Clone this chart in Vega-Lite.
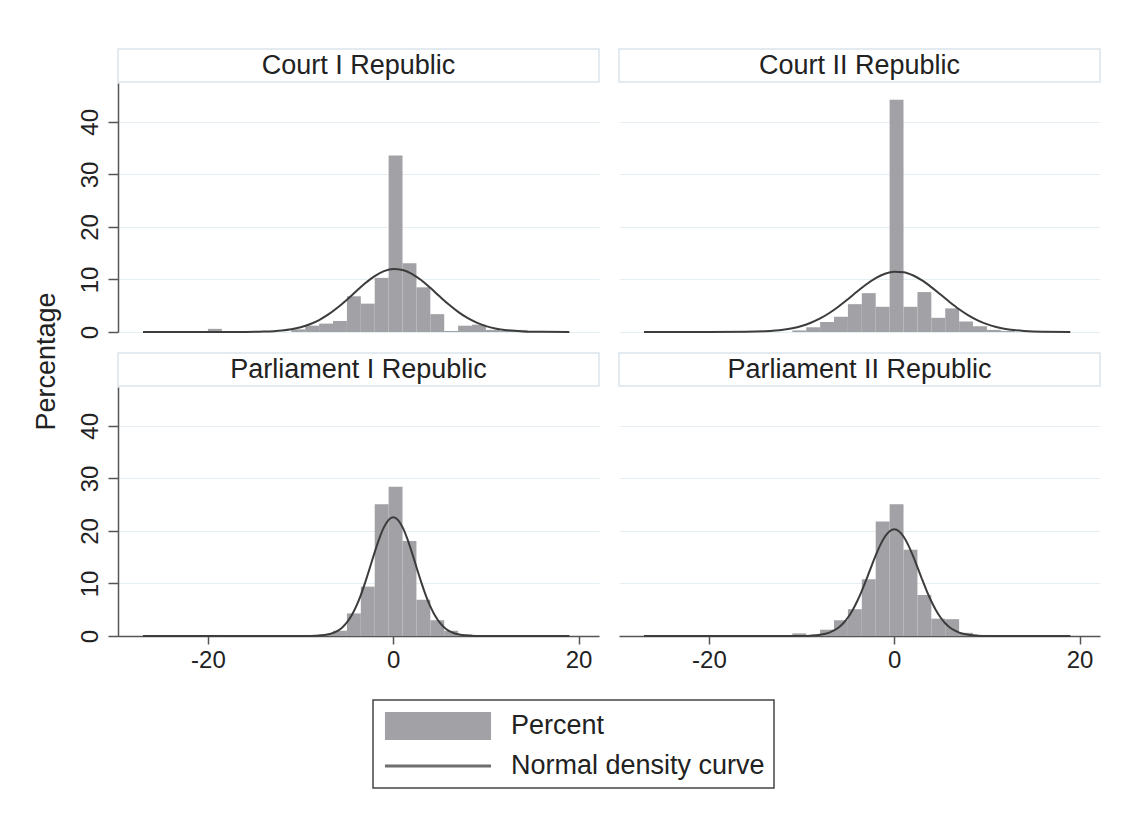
{
  "$schema": "https://vega.github.io/schema/vega-lite/v6.json",
  "background": "white",
  "padding": {"left": 32, "top": 48, "right": 20, "bottom": 5},
  "title": {"text": "Percentage", "orient": "left", "anchor": "middle", "font": "Liberation Sans", "fontSize": 27, "fontWeight": "normal", "color": "#222222", "offset": 17, "dx": 57},
  "datasets": {
    "headers": [
      {"panel": "Court I Republic"},
      {"panel": "Court II Republic"},
      {"panel": "Parliament I Republic"},
      {"panel": "Parliament II Republic"}
    ],
    "legend": [
      {"item": "Percent"},
      {"item": "Normal density curve"}
    ],
    "bars": [
      {"panel": "Court I Republic", "x0": -20, "x1": -18.5, "pct": 0.6},
      {"panel": "Court I Republic", "x0": -11, "x1": -9.5, "pct": 0.5},
      {"panel": "Court I Republic", "x0": -9.5, "x1": -8, "pct": 1.2},
      {"panel": "Court I Republic", "x0": -8, "x1": -6.5, "pct": 1.6},
      {"panel": "Court I Republic", "x0": -6.5, "x1": -5, "pct": 2.1},
      {"panel": "Court I Republic", "x0": -5, "x1": -3.5, "pct": 6.8},
      {"panel": "Court I Republic", "x0": -3.5, "x1": -2, "pct": 5.4},
      {"panel": "Court I Republic", "x0": -2, "x1": -0.5, "pct": 10.3},
      {"panel": "Court I Republic", "x0": -0.5, "x1": 1, "pct": 33.6},
      {"panel": "Court I Republic", "x0": 1, "x1": 2.5, "pct": 13.1},
      {"panel": "Court I Republic", "x0": 2.5, "x1": 4, "pct": 8.5},
      {"panel": "Court I Republic", "x0": 4, "x1": 5.5, "pct": 3.4},
      {"panel": "Court I Republic", "x0": 5.5, "x1": 7, "pct": 0.2},
      {"panel": "Court I Republic", "x0": 7, "x1": 8.5, "pct": 1.2},
      {"panel": "Court I Republic", "x0": 8.5, "x1": 10, "pct": 1.4},
      {"panel": "Court I Republic", "x0": 10, "x1": 11.5, "pct": 0.4},
      {"panel": "Court I Republic", "x0": 11.5, "x1": 13, "pct": 0.2},
      {"panel": "Court I Republic", "x0": 13, "x1": 14.5, "pct": 0.4},
      {"panel": "Court I Republic", "x0": 14.5, "x1": 16, "pct": 0.2},
      {"panel": "Court II Republic", "x0": -11, "x1": -9.5, "pct": 0.3},
      {"panel": "Court II Republic", "x0": -9.5, "x1": -8, "pct": 0.9},
      {"panel": "Court II Republic", "x0": -8, "x1": -6.5, "pct": 1.9},
      {"panel": "Court II Republic", "x0": -6.5, "x1": -5, "pct": 2.9},
      {"panel": "Court II Republic", "x0": -5, "x1": -3.5, "pct": 5.3},
      {"panel": "Court II Republic", "x0": -3.5, "x1": -2, "pct": 7.4},
      {"panel": "Court II Republic", "x0": -2, "x1": -0.5, "pct": 4.8},
      {"panel": "Court II Republic", "x0": -0.5, "x1": 1, "pct": 44.2},
      {"panel": "Court II Republic", "x0": 1, "x1": 2.5, "pct": 4.8},
      {"panel": "Court II Republic", "x0": 2.5, "x1": 4, "pct": 7.6},
      {"panel": "Court II Republic", "x0": 4, "x1": 5.5, "pct": 2.7},
      {"panel": "Court II Republic", "x0": 5.5, "x1": 7, "pct": 4.5},
      {"panel": "Court II Republic", "x0": 7, "x1": 8.5, "pct": 2.0},
      {"panel": "Court II Republic", "x0": 8.5, "x1": 10, "pct": 1.1},
      {"panel": "Court II Republic", "x0": 10, "x1": 11.5, "pct": 0.4},
      {"panel": "Court II Republic", "x0": 11.5, "x1": 13, "pct": 0.2},
      {"panel": "Parliament I Republic", "x0": -20, "x1": -18.5, "pct": 0.2},
      {"panel": "Parliament I Republic", "x0": -8, "x1": -6.5, "pct": 0.3},
      {"panel": "Parliament I Republic", "x0": -6.5, "x1": -5, "pct": 1.0},
      {"panel": "Parliament I Republic", "x0": -5, "x1": -3.5, "pct": 4.3},
      {"panel": "Parliament I Republic", "x0": -3.5, "x1": -2, "pct": 9.4},
      {"panel": "Parliament I Republic", "x0": -2, "x1": -0.5, "pct": 25.1},
      {"panel": "Parliament I Republic", "x0": -0.5, "x1": 1, "pct": 28.4},
      {"panel": "Parliament I Republic", "x0": 1, "x1": 2.5, "pct": 18.1},
      {"panel": "Parliament I Republic", "x0": 2.5, "x1": 4, "pct": 6.9},
      {"panel": "Parliament I Republic", "x0": 4, "x1": 5.5, "pct": 3.0},
      {"panel": "Parliament I Republic", "x0": 5.5, "x1": 7, "pct": 1.0},
      {"panel": "Parliament I Republic", "x0": 7, "x1": 8.5, "pct": 0.3},
      {"panel": "Parliament I Republic", "x0": 8.5, "x1": 10, "pct": 0.1},
      {"panel": "Parliament II Republic", "x0": -11, "x1": -9.5, "pct": 0.5},
      {"panel": "Parliament II Republic", "x0": -9.5, "x1": -8, "pct": 0.2},
      {"panel": "Parliament II Republic", "x0": -8, "x1": -6.5, "pct": 1.2},
      {"panel": "Parliament II Republic", "x0": -6.5, "x1": -5, "pct": 3.0},
      {"panel": "Parliament II Republic", "x0": -5, "x1": -3.5, "pct": 5.1},
      {"panel": "Parliament II Republic", "x0": -3.5, "x1": -2, "pct": 10.8},
      {"panel": "Parliament II Republic", "x0": -2, "x1": -0.5, "pct": 21.8},
      {"panel": "Parliament II Republic", "x0": -0.5, "x1": 1, "pct": 25.1},
      {"panel": "Parliament II Republic", "x0": 1, "x1": 2.5, "pct": 16.4},
      {"panel": "Parliament II Republic", "x0": 2.5, "x1": 4, "pct": 7.8},
      {"panel": "Parliament II Republic", "x0": 4, "x1": 5.5, "pct": 3.3},
      {"panel": "Parliament II Republic", "x0": 5.5, "x1": 7, "pct": 3.2},
      {"panel": "Parliament II Republic", "x0": 7, "x1": 8.5, "pct": 0.6},
      {"panel": "Parliament II Republic", "x0": 8.5, "x1": 10, "pct": 0.2}
    ],
    "curves": [
      {"panel": "Court I Republic", "x": -27, "y": 0},
      {"panel": "Court I Republic", "x": -20, "y": 0},
      {"panel": "Court I Republic", "x": -16, "y": 0.02},
      {"panel": "Court I Republic", "x": -14, "y": 0.08},
      {"panel": "Court I Republic", "x": -12, "y": 0.3},
      {"panel": "Court I Republic", "x": -11, "y": 0.54},
      {"panel": "Court I Republic", "x": -10, "y": 0.92},
      {"panel": "Court I Republic", "x": -9, "y": 1.48},
      {"panel": "Court I Republic", "x": -8, "y": 2.28},
      {"panel": "Court I Republic", "x": -7, "y": 3.34},
      {"panel": "Court I Republic", "x": -6, "y": 4.65},
      {"panel": "Court I Republic", "x": -5, "y": 6.16},
      {"panel": "Court I Republic", "x": -4, "y": 7.76},
      {"panel": "Court I Republic", "x": -3, "y": 9.32},
      {"panel": "Court I Republic", "x": -2, "y": 10.65},
      {"panel": "Court I Republic", "x": -1, "y": 11.58},
      {"panel": "Court I Republic", "x": 0, "y": 11.99},
      {"panel": "Court I Republic", "x": 1, "y": 11.81},
      {"panel": "Court I Republic", "x": 2, "y": 11.08},
      {"panel": "Court I Republic", "x": 3, "y": 9.89},
      {"panel": "Court I Republic", "x": 4, "y": 8.4},
      {"panel": "Court I Republic", "x": 5, "y": 6.79},
      {"panel": "Court I Republic", "x": 6, "y": 5.23},
      {"panel": "Court I Republic", "x": 7, "y": 3.83},
      {"panel": "Court I Republic", "x": 8, "y": 2.67},
      {"panel": "Court I Republic", "x": 9, "y": 1.77},
      {"panel": "Court I Republic", "x": 10, "y": 1.12},
      {"panel": "Court I Republic", "x": 11, "y": 0.67},
      {"panel": "Court I Republic", "x": 12, "y": 0.39},
      {"panel": "Court I Republic", "x": 14, "y": 0.11},
      {"panel": "Court I Republic", "x": 16, "y": 0.03},
      {"panel": "Court I Republic", "x": 19, "y": 0},
      {"panel": "Court II Republic", "x": -27, "y": 0},
      {"panel": "Court II Republic", "x": -20, "y": 0.01},
      {"panel": "Court II Republic", "x": -16, "y": 0.04},
      {"panel": "Court II Republic", "x": -14, "y": 0.14},
      {"panel": "Court II Republic", "x": -12, "y": 0.43},
      {"panel": "Court II Republic", "x": -11, "y": 0.72},
      {"panel": "Court II Republic", "x": -10, "y": 1.15},
      {"panel": "Court II Republic", "x": -9, "y": 1.76},
      {"panel": "Court II Republic", "x": -8, "y": 2.58},
      {"panel": "Court II Republic", "x": -7, "y": 3.62},
      {"panel": "Court II Republic", "x": -6, "y": 4.86},
      {"panel": "Court II Republic", "x": -5, "y": 6.25},
      {"panel": "Court II Republic", "x": -4, "y": 7.7},
      {"panel": "Court II Republic", "x": -3, "y": 9.08},
      {"panel": "Court II Republic", "x": -2, "y": 10.25},
      {"panel": "Court II Republic", "x": -1, "y": 11.09},
      {"panel": "Court II Republic", "x": 0, "y": 11.48},
      {"panel": "Court II Republic", "x": 1, "y": 11.38},
      {"panel": "Court II Republic", "x": 2, "y": 10.8},
      {"panel": "Court II Republic", "x": 3, "y": 9.82},
      {"panel": "Court II Republic", "x": 4, "y": 8.54},
      {"panel": "Court II Republic", "x": 5, "y": 7.12},
      {"panel": "Court II Republic", "x": 6, "y": 5.68},
      {"panel": "Court II Republic", "x": 7, "y": 4.34},
      {"panel": "Court II Republic", "x": 8, "y": 3.18},
      {"panel": "Court II Republic", "x": 9, "y": 2.23},
      {"panel": "Court II Republic", "x": 10, "y": 1.49},
      {"panel": "Court II Republic", "x": 11, "y": 0.96},
      {"panel": "Court II Republic", "x": 12, "y": 0.59},
      {"panel": "Court II Republic", "x": 14, "y": 0.2},
      {"panel": "Court II Republic", "x": 16, "y": 0.05},
      {"panel": "Court II Republic", "x": 19, "y": 0.01},
      {"panel": "Parliament I Republic", "x": -27, "y": 0},
      {"panel": "Parliament I Republic", "x": -12, "y": 0},
      {"panel": "Parliament I Republic", "x": -10, "y": 0},
      {"panel": "Parliament I Republic", "x": -9, "y": 0.02},
      {"panel": "Parliament I Republic", "x": -8, "y": 0.09},
      {"panel": "Parliament I Republic", "x": -7, "y": 0.32},
      {"panel": "Parliament I Republic", "x": -6.5, "y": 0.58},
      {"panel": "Parliament I Republic", "x": -6, "y": 0.99},
      {"panel": "Parliament I Republic", "x": -5.5, "y": 1.64},
      {"panel": "Parliament I Republic", "x": -5, "y": 2.58},
      {"panel": "Parliament I Republic", "x": -4.5, "y": 3.9},
      {"panel": "Parliament I Republic", "x": -4, "y": 5.64},
      {"panel": "Parliament I Republic", "x": -3.5, "y": 7.8},
      {"panel": "Parliament I Republic", "x": -3, "y": 10.35},
      {"panel": "Parliament I Republic", "x": -2.5, "y": 13.14},
      {"panel": "Parliament I Republic", "x": -2, "y": 15.97},
      {"panel": "Parliament I Republic", "x": -1.5, "y": 18.59},
      {"panel": "Parliament I Republic", "x": -1, "y": 20.72},
      {"panel": "Parliament I Republic", "x": -0.5, "y": 22.11},
      {"panel": "Parliament I Republic", "x": 0, "y": 22.6},
      {"panel": "Parliament I Republic", "x": 0.5, "y": 22.11},
      {"panel": "Parliament I Republic", "x": 1, "y": 20.72},
      {"panel": "Parliament I Republic", "x": 1.5, "y": 18.59},
      {"panel": "Parliament I Republic", "x": 2, "y": 15.97},
      {"panel": "Parliament I Republic", "x": 2.5, "y": 13.14},
      {"panel": "Parliament I Republic", "x": 3, "y": 10.35},
      {"panel": "Parliament I Republic", "x": 3.5, "y": 7.8},
      {"panel": "Parliament I Republic", "x": 4, "y": 5.64},
      {"panel": "Parliament I Republic", "x": 4.5, "y": 3.9},
      {"panel": "Parliament I Republic", "x": 5, "y": 2.58},
      {"panel": "Parliament I Republic", "x": 5.5, "y": 1.64},
      {"panel": "Parliament I Republic", "x": 6, "y": 0.99},
      {"panel": "Parliament I Republic", "x": 6.5, "y": 0.58},
      {"panel": "Parliament I Republic", "x": 7, "y": 0.32},
      {"panel": "Parliament I Republic", "x": 8, "y": 0.09},
      {"panel": "Parliament I Republic", "x": 9, "y": 0.02},
      {"panel": "Parliament I Republic", "x": 10, "y": 0},
      {"panel": "Parliament I Republic", "x": 19, "y": 0},
      {"panel": "Parliament II Republic", "x": -27, "y": 0},
      {"panel": "Parliament II Republic", "x": -12, "y": 0},
      {"panel": "Parliament II Republic", "x": -10, "y": 0.02},
      {"panel": "Parliament II Republic", "x": -9, "y": 0.07},
      {"panel": "Parliament II Republic", "x": -8, "y": 0.23},
      {"panel": "Parliament II Republic", "x": -7, "y": 0.65},
      {"panel": "Parliament II Republic", "x": -6.5, "y": 1.05},
      {"panel": "Parliament II Republic", "x": -6, "y": 1.63},
      {"panel": "Parliament II Republic", "x": -5.5, "y": 2.43},
      {"panel": "Parliament II Republic", "x": -5, "y": 3.52},
      {"panel": "Parliament II Republic", "x": -4.5, "y": 4.91},
      {"panel": "Parliament II Republic", "x": -4, "y": 6.61},
      {"panel": "Parliament II Republic", "x": -3.5, "y": 8.6},
      {"panel": "Parliament II Republic", "x": -3, "y": 10.8},
      {"panel": "Parliament II Republic", "x": -2.5, "y": 13.1},
      {"panel": "Parliament II Republic", "x": -2, "y": 15.33},
      {"panel": "Parliament II Republic", "x": -1.5, "y": 17.34},
      {"panel": "Parliament II Republic", "x": -1, "y": 18.93},
      {"panel": "Parliament II Republic", "x": -0.5, "y": 19.95},
      {"panel": "Parliament II Republic", "x": 0, "y": 20.3},
      {"panel": "Parliament II Republic", "x": 0.5, "y": 19.95},
      {"panel": "Parliament II Republic", "x": 1, "y": 18.93},
      {"panel": "Parliament II Republic", "x": 1.5, "y": 17.34},
      {"panel": "Parliament II Republic", "x": 2, "y": 15.33},
      {"panel": "Parliament II Republic", "x": 2.5, "y": 13.1},
      {"panel": "Parliament II Republic", "x": 3, "y": 10.8},
      {"panel": "Parliament II Republic", "x": 3.5, "y": 8.6},
      {"panel": "Parliament II Republic", "x": 4, "y": 6.61},
      {"panel": "Parliament II Republic", "x": 4.5, "y": 4.91},
      {"panel": "Parliament II Republic", "x": 5, "y": 3.52},
      {"panel": "Parliament II Republic", "x": 5.5, "y": 2.43},
      {"panel": "Parliament II Republic", "x": 6, "y": 1.63},
      {"panel": "Parliament II Republic", "x": 6.5, "y": 1.05},
      {"panel": "Parliament II Republic", "x": 7, "y": 0.65},
      {"panel": "Parliament II Republic", "x": 8, "y": 0.23},
      {"panel": "Parliament II Republic", "x": 9, "y": 0.07},
      {"panel": "Parliament II Republic", "x": 10, "y": 0.02},
      {"panel": "Parliament II Republic", "x": 12, "y": 0},
      {"panel": "Parliament II Republic", "x": 19, "y": 0}
    ]
  },
  "columns": 2,
  "spacing": {"row": 1, "column": 20},
  "bounds": "flush",
  "concat": [
    {
      "width": 481, "height": 33,
      "data": {"name": "headers"},
      "transform": [{"filter": "datum.panel === 'Court I Republic'"}],
      "mark": {"type": "text", "font": "Liberation Sans", "fontSize": 27, "color": "#222222"},
      "encoding": {"text": {"field": "panel", "type": "nominal"}},
      "view": {"stroke": "#dbe5eb", "strokeWidth": 1.5, "fill": "white"}
    },
    {
      "width": 481, "height": 33,
      "data": {"name": "headers"},
      "transform": [{"filter": "datum.panel === 'Court II Republic'"}],
      "mark": {"type": "text", "font": "Liberation Sans", "fontSize": 27, "color": "#222222"},
      "encoding": {"text": {"field": "panel", "type": "nominal"}},
      "view": {"stroke": "#dbe5eb", "strokeWidth": 1.5, "fill": "white"}
    },
    {
      "width": 481, "height": 249,
      "layer": [
        {
          "data": {"name": "bars"},
          "transform": [{"filter": "datum.panel === 'Court I Republic'"}],
          "mark": {"type": "bar", "color": "#a2a1a5"},
          "encoding": {
            "x": {"field": "x0", "type": "quantitative", "scale": {"domain": [-29.7, 22.2], "nice": false, "zero": false}, "axis": null},
            "x2": {"field": "x1"},
            "y": {"field": "pct", "type": "quantitative", "scale": {"domain": [0, 47.4], "nice": false},
                  "axis": {"values": [0, 10, 20, 30, 40], "title": null, "labelAngle": -90, "labelFontSize": 24, "tickSize": 10, "labelPadding": 6, "grid": true, "gridColor": "#e5eef2", "domainWidth": 1.5, "tickWidth": 1.5}},
            "y2": {"datum": 0}
          }
        },
        {
          "data": {"name": "curves"},
          "transform": [{"filter": "datum.panel === 'Court I Republic'"}],
          "mark": {"type": "line", "color": "#3c3c3c", "strokeWidth": 2, "interpolate": "monotone"},
          "encoding": {
            "x": {"field": "x", "type": "quantitative"},
            "y": {"field": "y", "type": "quantitative"}
          }
        }
      ]
    },
    {
      "width": 481, "height": 249,
      "layer": [
        {
          "data": {"name": "bars"},
          "transform": [{"filter": "datum.panel === 'Court II Republic'"}],
          "mark": {"type": "bar", "color": "#a2a1a5"},
          "encoding": {
            "x": {"field": "x0", "type": "quantitative", "scale": {"domain": [-29.7, 22.2], "nice": false, "zero": false}, "axis": null},
            "x2": {"field": "x1"},
            "y": {"field": "pct", "type": "quantitative", "scale": {"domain": [0, 47.4], "nice": false},
                  "axis": {"values": [0, 10, 20, 30, 40], "title": null, "labels": false, "ticks": false, "domain": false, "grid": true, "gridColor": "#e5eef2"}},
            "y2": {"datum": 0}
          }
        },
        {
          "data": {"name": "curves"},
          "transform": [{"filter": "datum.panel === 'Court II Republic'"}],
          "mark": {"type": "line", "color": "#3c3c3c", "strokeWidth": 2, "interpolate": "monotone"},
          "encoding": {
            "x": {"field": "x", "type": "quantitative"},
            "y": {"field": "y", "type": "quantitative"}
          }
        }
      ]
    },
    {
      "width": 481, "height": 19,
      "data": {"values": [{}]},
      "mark": {"type": "text", "text": ""}
    },
    {
      "width": 481, "height": 19,
      "data": {"values": [{}]},
      "mark": {"type": "text", "text": ""}
    },
    {
      "width": 481, "height": 33,
      "data": {"name": "headers"},
      "transform": [{"filter": "datum.panel === 'Parliament I Republic'"}],
      "mark": {"type": "text", "font": "Liberation Sans", "fontSize": 27, "color": "#222222"},
      "encoding": {"text": {"field": "panel", "type": "nominal"}},
      "view": {"stroke": "#dbe5eb", "strokeWidth": 1.5, "fill": "white"}
    },
    {
      "width": 481, "height": 33,
      "data": {"name": "headers"},
      "transform": [{"filter": "datum.panel === 'Parliament II Republic'"}],
      "mark": {"type": "text", "font": "Liberation Sans", "fontSize": 27, "color": "#222222"},
      "encoding": {"text": {"field": "panel", "type": "nominal"}},
      "view": {"stroke": "#dbe5eb", "strokeWidth": 1.5, "fill": "white"}
    },
    {
      "width": 481, "height": 249,
      "layer": [
        {
          "data": {"name": "bars"},
          "transform": [{"filter": "datum.panel === 'Parliament I Republic'"}],
          "mark": {"type": "bar", "color": "#a2a1a5"},
          "encoding": {
            "x": {"field": "x0", "type": "quantitative", "scale": {"domain": [-29.7, 22.2], "nice": false, "zero": false},
                  "axis": {"values": [-20, 0, 20], "title": null, "labelFontSize": 24, "tickSize": 8, "labelPadding": 4, "grid": false, "domainWidth": 1.5, "tickWidth": 1.5, "labelExpr": "datum.value < 0 ? '-' + abs(datum.value) : '' + datum.value"}},
            "x2": {"field": "x1"},
            "y": {"field": "pct", "type": "quantitative", "scale": {"domain": [0, 47.4], "nice": false},
                  "axis": {"values": [0, 10, 20, 30, 40], "title": null, "labelAngle": -90, "labelFontSize": 24, "tickSize": 10, "labelPadding": 6, "grid": true, "gridColor": "#e5eef2", "domainWidth": 1.5, "tickWidth": 1.5}},
            "y2": {"datum": 0}
          }
        },
        {
          "data": {"name": "curves"},
          "transform": [{"filter": "datum.panel === 'Parliament I Republic'"}],
          "mark": {"type": "line", "color": "#3c3c3c", "strokeWidth": 2, "interpolate": "monotone"},
          "encoding": {
            "x": {"field": "x", "type": "quantitative"},
            "y": {"field": "y", "type": "quantitative"}
          }
        },
        {
          "data": {"name": "legend"},
          "mark": {"type": "point", "filled": true, "opacity": 0},
          "encoding": {
            "color": {"field": "item", "type": "nominal",
              "scale": {"domain": ["Percent", "Normal density curve"], "range": ["#a2a1a5", "#6e6e6e"]},
              "legend": {"orient": "none", "legendX": 255, "legendY": 651, "direction": "vertical", "title": null, "labelFont": "Liberation Sans", "labelFontSize": 27, "labelColor": "#222222", "labelLimit": 500, "symbolSize": 1156, "symbolOffset": 39, "labelOffset": 56, "symbolOpacity": 1, "symbolStrokeWidth": 0, "rowPadding": 9, "padding": 9, "strokeColor": "#444444", "fillColor": "white"}},
            "shape": {"field": "item", "type": "nominal",
              "scale": {"domain": ["Percent", "Normal density curve"], "range": ["M-3.12,-0.82H3.12V0.82H-3.12Z", "M-3.12,-0.09H3.12V0.09H-3.12Z"]},
              "legend": {"orient": "none", "legendX": 255, "legendY": 651, "direction": "vertical", "title": null, "labelFont": "Liberation Sans", "labelFontSize": 27, "labelColor": "#222222", "labelLimit": 500, "symbolSize": 1156, "symbolOffset": 39, "labelOffset": 56, "symbolOpacity": 1, "symbolStrokeWidth": 0, "rowPadding": 9, "padding": 9, "strokeColor": "#444444", "fillColor": "white"}}
          }
        }
      ]
    },
    {
      "width": 481, "height": 249,
      "layer": [
        {
          "data": {"name": "bars"},
          "transform": [{"filter": "datum.panel === 'Parliament II Republic'"}],
          "mark": {"type": "bar", "color": "#a2a1a5"},
          "encoding": {
            "x": {"field": "x0", "type": "quantitative", "scale": {"domain": [-29.7, 22.2], "nice": false, "zero": false},
                  "axis": {"values": [-20, 0, 20], "title": null, "labelFontSize": 24, "tickSize": 8, "labelPadding": 4, "grid": false, "domainWidth": 1.5, "tickWidth": 1.5, "labelExpr": "datum.value < 0 ? '-' + abs(datum.value) : '' + datum.value"}},
            "x2": {"field": "x1"},
            "y": {"field": "pct", "type": "quantitative", "scale": {"domain": [0, 47.4], "nice": false},
                  "axis": {"values": [0, 10, 20, 30, 40], "title": null, "labels": false, "ticks": false, "domain": false, "grid": true, "gridColor": "#e5eef2"}},
            "y2": {"datum": 0}
          }
        },
        {
          "data": {"name": "curves"},
          "transform": [{"filter": "datum.panel === 'Parliament II Republic'"}],
          "mark": {"type": "line", "color": "#3c3c3c", "strokeWidth": 2, "interpolate": "monotone"},
          "encoding": {
            "x": {"field": "x", "type": "quantitative"},
            "y": {"field": "y", "type": "quantitative"}
          }
        }
      ]
    }
  ],
  "config": {
    "view": {"stroke": null},
    "font": "Liberation Sans",
    "axis": {"labelFont": "Liberation Sans", "labelColor": "#222222", "domainColor": "#555555", "tickColor": "#555555"},
    "legend": {"strokeWidth": 1.5}
  }
}
